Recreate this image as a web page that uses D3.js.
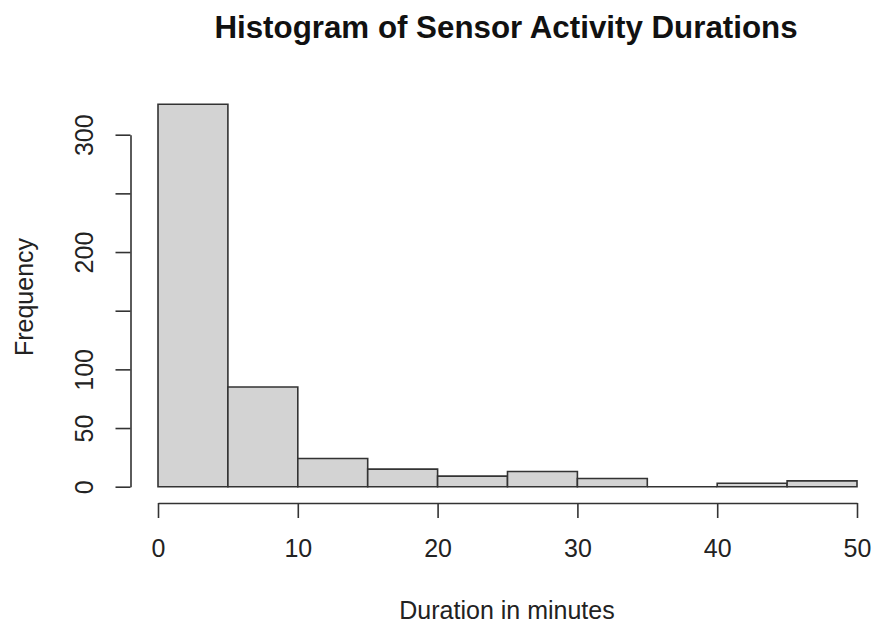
<!DOCTYPE html>
<html>
<head>
<meta charset="utf-8">
<script src="https://cdn.jsdelivr.net/npm/d3@7"></script>
<style>
  body { margin: 0; background: #fff; }
  svg { display: block; font-family: "Liberation Sans", Arial, sans-serif; }
</style>
</head>
<body>
<svg id="chart" width="874" height="625"></svg>
<script>
// Bin edges (minutes) and counts
const binStarts = [0, 5, 10, 15, 20, 25, 30, 35, 40, 45];
const binWidth = 5;
const counts = [326, 85, 24, 15, 9, 13, 7, 0, 3, 5];
const xTicks = [0, 10, 20, 30, 40, 50];
const yTicks = [0, 50, 100, 150, 200, 250, 300];
const yTickLabels = ["0", "50", "100", "", "200", "", "300"];
const title = "Histogram of Sensor Activity Durations";
const xLabel = "Duration in minutes";
const yLabel = "Frequency";

const svg = d3.select("#chart");
const textColor = "#222";

const x = d3.scaleLinear().domain([0, 50]).range([158, 857]);
const y = d3.scaleLinear().domain([0, 300]).range([486.7, 134.7]);

// Bars (drawn as closed paths so zero-count bins still show their outline)
svg.append("g")
  .selectAll("path")
  .data(binStarts.map((s, i) => ({ s, c: counts[i] })))
  .join("path")
  .attr("d", d => {
    const x0 = x(d.s), x1 = x(d.s + binWidth), y0 = y(0), y1 = y(d.c);
    return `M${x0},${y0}V${y1}H${x1}V${y0}Z`;
  })
  .attr("fill", "#d3d3d3")
  .attr("stroke", "#333")
  .attr("stroke-width", 1.6);

// X axis
const xAxisG = svg.append("g")
  .attr("transform", "translate(0,503)")
  .call(d3.axisBottom(x).tickValues(xTicks).tickSize(15).tickSizeOuter(0).tickFormat(d3.format("d")));
xAxisG.selectAll("path, line").attr("stroke", "#333").attr("stroke-width", 1.6);
xAxisG.selectAll("text")
  .attr("y", 54).attr("dy", 0)
  .attr("font-size", 25).attr("fill", textColor)
  .attr("font-family", "Liberation Sans, Arial, sans-serif");

// Y axis
const yAxisG = svg.append("g")
  .attr("transform", "translate(130.5,0)")
  .call(d3.axisLeft(y).tickValues(yTicks).tickSize(15).tickSizeOuter(0)
    .tickFormat((d, i) => yTickLabels[i]));
yAxisG.selectAll("path, line").attr("stroke", "#333").attr("stroke-width", 1.6);
yAxisG.selectAll("text")
  .attr("x", 0).attr("y", 0).attr("dy", "0.35em")
  .attr("text-anchor", "middle")
  .attr("transform", "translate(-46,0) rotate(-90)")
  .attr("font-size", 25).attr("fill", textColor)
  .attr("font-family", "Liberation Sans, Arial, sans-serif");

// Title
svg.append("text")
  .attr("x", 506).attr("y", 38)
  .attr("text-anchor", "middle")
  .attr("font-size", 31.3).attr("font-weight", "bold")
  .attr("fill", "#111")
  .text(title);

// X label
svg.append("text")
  .attr("x", 507).attr("y", 619)
  .attr("text-anchor", "middle")
  .attr("font-size", 25).attr("fill", textColor)
  .text(xLabel);

// Y label
svg.append("text")
  .attr("transform", "translate(33,297) rotate(-90)")
  .attr("text-anchor", "middle")
  .attr("font-size", 25).attr("fill", textColor)
  .text(yLabel);
</script>
</body>
</html>
